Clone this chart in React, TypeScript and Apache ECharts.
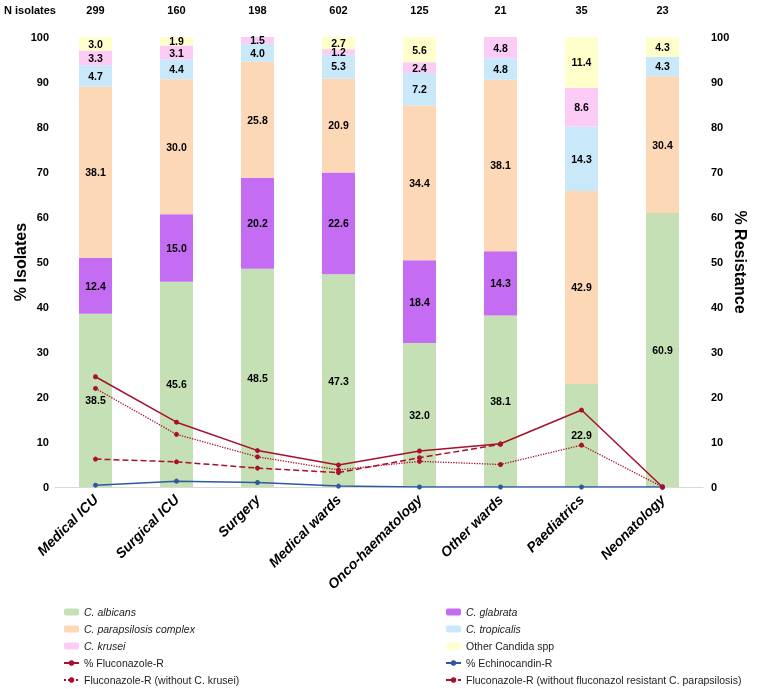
import React, { useEffect, useRef } from "react";
import * as echarts from "echarts";

const categories = ["Medical ICU", "Surgical ICU", "Surgery", "Medical wards", "Onco-haematology", "Other wards", "Paediatrics", "Neonatology"];
const nIsolates = ["299", "160", "198", "602", "125", "21", "35", "23"];

const albicans = [38.5, 45.6, 48.5, 47.3, 32.0, 38.1, 22.9, 60.9];
const glabrata = [12.4, 15.0, 20.2, 22.6, 18.4, 14.3, 0, 0];
const parapsilosis = [38.1, 30.0, 25.8, 20.9, 34.4, 38.1, 42.9, 30.4];
const tropicalis = [4.7, 4.4, 4.0, 5.3, 7.2, 4.8, 14.3, 4.3];
const krusei = [3.3, 3.1, 1.5, 1.2, 2.4, 4.8, 8.6, 0];
const otherCandida = [3.0, 1.9, 0, 2.7, 5.6, 0, 11.4, 4.3];

const fluconazoleR = [24.5, 14.4, 8.1, 4.9, 8.0, 9.6, 17.1, 0];
const echinocandinR = [0.4, 1.3, 1.0, 0.2, 0, 0, 0, 0];
const flucoNoKrusei = [21.9, 11.7, 6.7, 3.8, 5.7, 5.0, 9.3, 0];
const flucoNoParaps = [6.2, 5.6, 4.2, 3.2, 6.5, 9.5, null, null];

const FONT = "'Liberation Sans', Arial, sans-serif";
const RED = "#A8102E";
const BLUE = "#2F5A9E";

const italicNames = ["C. albicans", "C. glabrata", "C. parapsilosis complex", "C. tropicalis", "C. krusei"];

export default function App() {
  const ref = useRef<HTMLDivElement>(null);
  useEffect(() => {
    if (!ref.current) return;
    const chart = echarts.init(ref.current, null, { renderer: "svg" });
    const barLabel = {
      show: true,
      position: "inside",
      color: "#000",
      fontWeight: "bold",
      fontSize: 10.5,
      fontFamily: FONT,
      formatter: (p: any) => (p.value ? Number(p.value).toFixed(1) : ""),
    };
    const bar = (name: string, data: number[], color: string) => ({
      name,
      type: "bar",
      stack: "total",
      data,
      barWidth: 33,
      itemStyle: { color },
      label: barLabel,
    });
    const line = (name: string, data: (number | null)[], color: string, type: string, width: number) => ({
      name,
      type: "line",
      yAxisIndex: 1,
      data,
      symbol: "circle",
      symbolSize: 5,
      connectNulls: false,
      itemStyle: { color },
      lineStyle: { color, width, type },
    });
    const legendCommon = {
      orient: "vertical",
      top: 601,
      height: 120,
      itemWidth: 15,
      itemHeight: 7,
      itemGap: 5,
      textStyle: {
        fontFamily: FONT,
        fontSize: 10.5,
        color: "#222",
        lineHeight: 12,
        rich: { i: { fontStyle: "italic", fontFamily: FONT, fontSize: 10.5, color: "#222" } },
      },
      formatter: (n: string) => (italicNames.includes(n) ? `{i|${n}}` : n),
    };
    chart.setOption({
      animation: false,
      grid: { left: 55, right: 56, top: 37, bottom: 202, outerBoundsMode: "none", containLabel: false },
      graphic: [
        {
          type: "text",
          left: 4,
          top: 4,
          style: { text: "N isolates", fill: "#000", fontWeight: "bold", fontSize: 11, fontFamily: FONT },
        },
      ],
      legend: [
        {
          ...legendCommon,
          left: 58,
          data: ["C. albicans", "C. parapsilosis complex", "C. krusei", "% Fluconazole-R", "Fluconazole-R (without C. krusei)"],
        },
        {
          ...legendCommon,
          left: 440,
          data: ["C. glabrata", "C. tropicalis", "Other Candida spp", "% Echinocandin-R", "Fluconazole-R (without fluconazol resistant C. parapsilosis)"],
        },
      ],
      xAxis: [
        {
          type: "category",
          data: categories,
          axisLine: { lineStyle: { color: "#D9D9D9" } },
          axisTick: { show: false },
          axisLabel: {
            rotate: 45,
            interval: 0,
            margin: 10,
            color: "#000",
            fontWeight: "bold",
            fontStyle: "italic",
            fontSize: 14,
            fontFamily: FONT,
          },
        },
        {
          type: "category",
          data: categories,
          position: "top",
          offset: 27,
          axisLine: { show: false },
          axisTick: { show: false },
          axisLabel: {
            interval: 0,
            margin: 0,
            verticalAlign: "middle",
            color: "#000",
            fontWeight: "bold",
            fontSize: 11,
            fontFamily: FONT,
            formatter: (_v: string, i: number) => nIsolates[i],
          },
        },
      ],
      yAxis: [
        {
          type: "value",
          min: 0,
          max: 100,
          interval: 10,
          splitLine: { show: false },
          axisLine: { show: false },
          axisTick: { show: false },
          axisLabel: { color: "#000", fontWeight: "bold", fontSize: 11, fontFamily: FONT, margin: 6 },
          name: "% Isolates",
          nameLocation: "middle",
          nameRotate: 90,
          nameGap: 27,
          nameMoveOverlap: false,
          nameTextStyle: { color: "#000", fontWeight: "bold", fontSize: 16, fontFamily: FONT },
        },
        {
          type: "value",
          min: 0,
          max: 100,
          interval: 10,
          position: "right",
          splitLine: { show: false },
          axisLine: { show: false },
          axisTick: { show: false },
          axisLabel: { color: "#000", fontWeight: "bold", fontSize: 11, fontFamily: FONT, margin: 8 },
          name: "% Resistance",
          nameLocation: "middle",
          nameRotate: -90,
          nameGap: 29,
          nameMoveOverlap: false,
          nameTextStyle: { color: "#000", fontWeight: "bold", fontSize: 16, fontFamily: FONT },
        },
      ],
      series: [
        bar("C. albicans", albicans, "#C5E0B4"),
        bar("C. glabrata", glabrata, "#C46CF2"),
        bar("C. parapsilosis complex", parapsilosis, "#FCD8B6"),
        bar("C. tropicalis", tropicalis, "#C9E8FA"),
        bar("C. krusei", krusei, "#FCCCF6"),
        bar("Other Candida spp", otherCandida, "#FFFFCC"),
        line("% Fluconazole-R", fluconazoleR, RED, "solid", 1.5),
        line("% Echinocandin-R", echinocandinR, BLUE, "solid", 1.5),
        line("Fluconazole-R (without C. krusei)", flucoNoKrusei, RED, "dotted", 1.3),
        line("Fluconazole-R (without fluconazol resistant C. parapsilosis)", flucoNoParaps, RED, "dashed", 1.5),
      ],
    });
    return () => chart.dispose();
  }, []);
  return <div ref={ref} style={{ position: "fixed", left: 0, top: 0, width: 759, height: 689 }} />;
}
